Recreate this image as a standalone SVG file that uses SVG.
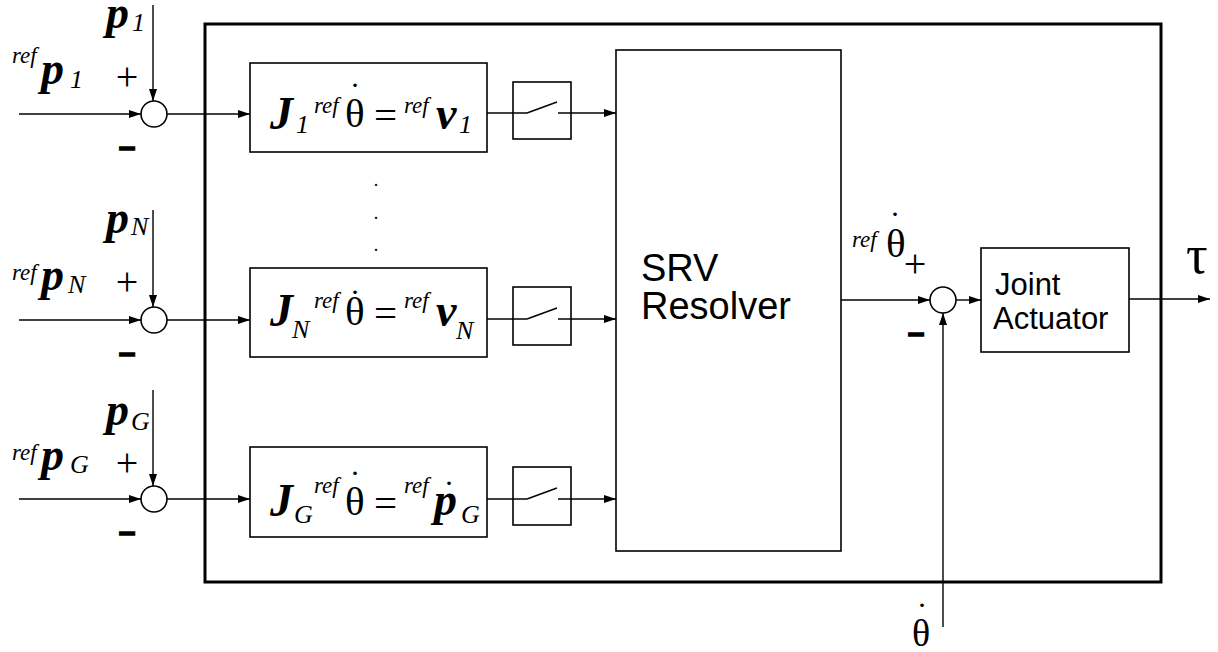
<svg xmlns="http://www.w3.org/2000/svg" width="1218" height="652" viewBox="0 0 1218 652">
<style>
.ln{stroke:#000;stroke-width:1.4;fill:none}
.bx{stroke:#000;stroke-width:1.6;fill:#fff}
.sw{stroke:#000;stroke-width:1.6;fill:none}
.m{font-family:"Liberation Serif","Times New Roman",serif;fill:#000}
.bi{font-weight:bold;font-style:italic;font-size:46px}
.it{font-style:italic;font-size:26px}
.rf{font-style:italic;font-size:23px}
.rg{font-size:41px}
.pl{font-size:40px}
.dt{font-size:22px;font-weight:bold}
.mi{font-family:"Liberation Sans",Arial,sans-serif;font-weight:bold;font-size:30px;stroke:#000;stroke-width:1.4}
.s{font-family:"Liberation Sans",Arial,sans-serif;fill:#000}
</style>
<defs>
<marker id="ar" markerUnits="userSpaceOnUse" markerWidth="12" markerHeight="8" refX="12" refY="4" orient="auto">
<path d="M0,0 L12,4 L0,8 z" fill="#000"/>
</marker>
</defs>
<rect width="1218" height="652" fill="#fff"/>

<g id="outer">
<rect x="205" y="24" width="956" height="558" fill="none" stroke="#000" stroke-width="3"/>
</g>

<g id="connectors">
<line class="ln" x1="19" y1="114" x2="141" y2="114" marker-end="url(#ar)"/>
<line class="ln" x1="153" y1="5" x2="153" y2="101" marker-end="url(#ar)"/>
<line class="ln" x1="166" y1="114" x2="250" y2="114" marker-end="url(#ar)"/>
<line class="ln" x1="487" y1="113" x2="527" y2="113"/>
<line class="ln" x1="527" y1="113" x2="557" y2="102"/>
<line class="ln" x1="558" y1="113" x2="616" y2="113" marker-end="url(#ar)"/>
<line class="ln" x1="19" y1="320" x2="141" y2="320" marker-end="url(#ar)"/>
<line class="ln" x1="153" y1="210" x2="153" y2="307" marker-end="url(#ar)"/>
<line class="ln" x1="166" y1="320" x2="250" y2="320" marker-end="url(#ar)"/>
<line class="ln" x1="487" y1="319" x2="527" y2="319"/>
<line class="ln" x1="527" y1="319" x2="557" y2="308"/>
<line class="ln" x1="558" y1="319" x2="616" y2="319" marker-end="url(#ar)"/>
<line class="ln" x1="19" y1="499" x2="141" y2="499" marker-end="url(#ar)"/>
<line class="ln" x1="153" y1="390" x2="153" y2="486" marker-end="url(#ar)"/>
<line class="ln" x1="166" y1="499" x2="250" y2="499" marker-end="url(#ar)"/>
<line class="ln" x1="487" y1="499" x2="527" y2="499"/>
<line class="ln" x1="527" y1="499" x2="557" y2="488"/>
<line class="ln" x1="558" y1="499" x2="616" y2="499" marker-end="url(#ar)"/>
<line class="ln" x1="841" y1="300" x2="930" y2="300" marker-end="url(#ar)"/>
<line class="ln" x1="956" y1="300" x2="981" y2="300" marker-end="url(#ar)"/>
<line class="ln" x1="943" y1="627" x2="943" y2="313" marker-end="url(#ar)"/>
<line class="ln" x1="1129" y1="299" x2="1210" y2="299" marker-end="url(#ar)"/>
</g>

<g id="sum1"><circle class="bx" cx="154" cy="114" r="13"/></g>
<g id="sumN"><circle class="bx" cx="154" cy="320" r="13"/></g>
<g id="sumG"><circle class="bx" cx="154" cy="499" r="13"/></g>
<g id="sumOut"><circle class="bx" cx="943" cy="300" r="13"/></g>

<g id="block1">
<rect class="bx" x="250" y="63" width="237" height="89"/>
<text class="m bi" x="270" y="129">J</text>
<text class="m it" x="296" y="133">1</text>
<text class="m rf" x="314" y="113">ref</text>
<text class="m dt" x="355" y="87" text-anchor="middle">.</text>
<text class="m rg" x="345" y="127">θ</text>
<text class="m rg" x="374" y="129">=</text>
<text class="m rf" x="404" y="113">ref</text>
<text class="m bi" x="436" y="129">v</text>
<text class="m it" x="459" y="133">1</text>
</g>

<g id="blockN">
<rect class="bx" x="250" y="268" width="237" height="89"/>
<text class="m bi" x="270" y="326">J</text>
<text class="m it" x="292" y="338">N</text>
<text class="m rf" x="314" y="308">ref</text>
<text class="m dt" x="355" y="294" text-anchor="middle">.</text>
<text class="m rg" x="345" y="325">θ</text>
<text class="m rg" x="374" y="327">=</text>
<text class="m rf" x="404" y="308">ref</text>
<text class="m bi" x="436" y="326">v</text>
<text class="m it" x="456" y="339">N</text>
</g>

<g id="blockG">
<rect class="bx" x="250" y="447" width="237" height="90"/>
<text class="m bi" x="270" y="516">J</text>
<text class="m it" x="294" y="523">G</text>
<text class="m rf" x="314" y="493">ref</text>
<text class="m dt" x="355" y="475" text-anchor="middle">.</text>
<text class="m rg" x="345" y="515">θ</text>
<text class="m rg" x="374" y="517">=</text>
<text class="m rf" x="404" y="493">ref</text>
<text class="m dt" x="449" y="485" text-anchor="middle">.</text>
<text class="m bi" x="434" y="515">p</text>
<text class="m it" x="461" y="523">G</text>
</g>

<g id="switch1"><rect class="sw" x="513" y="82" width="58" height="57"/></g>
<g id="switchN"><rect class="sw" x="513" y="287" width="58" height="58"/></g>
<g id="switchG"><rect class="sw" x="513" y="467" width="58" height="58"/></g>

<g id="dots">
<text class="m" x="376" y="186" text-anchor="middle" font-size="18">.</text>
<text class="m" x="376" y="219" text-anchor="middle" font-size="18">.</text>
<text class="m" x="376" y="251" text-anchor="middle" font-size="18">.</text>
</g>

<g id="srv">
<rect class="bx" x="616" y="50" width="225" height="501"/>
<text class="s" x="641" y="281" font-size="38">SRV</text>
<text class="s" x="641" y="319" font-size="38">Resolver</text>
</g>

<g id="actuator">
<rect class="bx" x="981" y="248" width="148" height="104"/>
<text class="s" x="995" y="295" font-size="31">Joint</text>
<text class="s" x="993" y="329" font-size="31">Actuator</text>
</g>

<g id="labels1">
<text class="m bi" x="106" y="28">p</text>
<text class="m it" x="132" y="31">1</text>
<text class="m rf" x="12" y="63">ref</text>
<text class="m bi" x="41" y="84">p</text>
<text class="m it" x="70" y="88">1</text>
<text class="m pl" x="127" y="90" text-anchor="middle">+</text>
<text class="mi" x="127" y="157" text-anchor="middle">–</text>
</g>

<g id="labelsN">
<text class="m bi" x="106" y="233">p</text>
<text class="m it" x="131" y="235">N</text>
<text class="m rf" x="12" y="280">ref</text>
<text class="m bi" x="41" y="290">p</text>
<text class="m it" x="68" y="293">N</text>
<text class="m pl" x="127" y="295" text-anchor="middle">+</text>
<text class="mi" x="127" y="363" text-anchor="middle">–</text>
</g>

<g id="labelsG">
<text class="m bi" x="106" y="425">p</text>
<text class="m it" x="131" y="430">G</text>
<text class="m rf" x="12" y="460">ref</text>
<text class="m bi" x="41" y="470">p</text>
<text class="m it" x="70" y="473">G</text>
<text class="m pl" x="127" y="476" text-anchor="middle">+</text>
<text class="mi" x="127" y="542" text-anchor="middle">–</text>
</g>

<g id="labelsOut">
<text class="m rf" x="852" y="247">ref</text>
<text class="m dt" x="895" y="216" text-anchor="middle">.</text>
<text class="m rg" x="886" y="257">θ</text>
<text class="m pl" x="915" y="277" text-anchor="middle">+</text>
<text class="mi" x="916" y="343" text-anchor="middle">–</text>
<text class="m" x="1186" y="273" font-size="54">τ</text>
<text class="m dt" x="922" y="607" text-anchor="middle">.</text>
<text class="m" x="912" y="646" font-size="38">θ</text>
</g>
</svg>
